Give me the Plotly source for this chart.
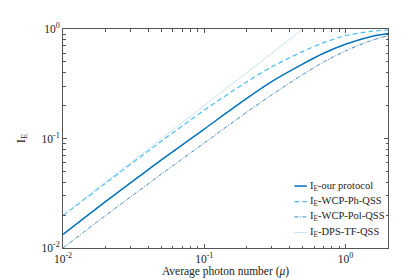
import plotly.graph_objects as go

mu = [0.01, 0.02, 0.05, 0.1, 0.2, 0.3, 0.5, 0.7, 1.0, 1.5, 2.0]
ie_our = [0.0133, 0.0265, 0.064, 0.122, 0.232, 0.33, 0.48, 0.60, 0.725, 0.85, 0.91]
ie_ph = [0.0198, 0.039, 0.095, 0.181, 0.33, 0.45, 0.625, 0.75, 0.87, 0.95, 0.98]
ie_pol = [0.0100, 0.0198, 0.0475, 0.091, 0.174, 0.25, 0.385, 0.50, 0.63, 0.78, 0.87]
mu_dps = [0.01, 0.02, 0.05, 0.1, 0.2, 0.3, 0.5]
ie_dps = [0.02, 0.04, 0.1, 0.2, 0.4, 0.6, 1.0]

names = ["I<sub>E</sub>-our protocol", "I<sub>E</sub>-WCP-Ph-QSS",
         "I<sub>E</sub>-WCP-Pol-QSS", "I<sub>E</sub>-DPS-TF-QSS"]

major = [0.01, 0.1, 1]
major_text = ["10<sup>-2</sup>", "10<sup>-1</sup>", "10<sup>0</sup>"]
minor_x = [k * 10 ** e for e in (-2, -1, 0) for k in range(2, 10) if k * 10 ** e <= 2]
minor_y = [k * 10 ** e for e in (-2, -1) for k in range(2, 10)]

styles = [
    dict(color="#0072BD", width=1.5),
    dict(color="#4DBEEE", width=1.2, dash="5px,3px"),
    dict(color="#2E7DBF", width=0.9, dash="4px,1.5px,1px,1.5px"),
    dict(color="#B5DDF2", width=0.8),
]
series = [(mu, ie_our), (mu, ie_ph), (mu, ie_pol), (mu_dps, ie_dps)]

fig = go.Figure()
for (xs, ys), st, nm in zip(series, styles, names):
    fig.add_trace(go.Scatter(x=xs, y=ys, mode="lines", name=nm,
                             line=dict(shape="spline", smoothing=0.8, **st),
                             showlegend=False))

# compact legend (bottom right), built from the same names/styles
leg_x0, leg_x1, leg_tx = 0.712, 0.750, 0.755
leg_rows = [0.283, 0.212, 0.142, 0.071]
for nm, st, yy in zip(names, styles, leg_rows):
    fig.add_shape(type="line", xref="paper", yref="paper",
                  x0=leg_x0, x1=leg_x1, y0=yy, y1=yy, line=st)
    fig.add_annotation(xref="paper", yref="paper", x=leg_tx, y=yy,
                       xanchor="left", yanchor="middle", showarrow=False,
                       text=nm, font=dict(family="Liberation Serif", size=10.5, color="#222222"))

axis_common = dict(type="log", showline=True, linecolor="#555555", linewidth=1,
                   mirror="allticks", ticks="inside", ticklen=4, tickcolor="#555555",
                   showgrid=False, zeroline=False,
                   tickfont=dict(family="Liberation Serif", size=11.5, color="#222222"),
                   minor=dict(ticks="inside", ticklen=2.5, tickcolor="#555555", showgrid=False))

fig.update_xaxes(**axis_common, range=[-2, 0.30103], tickmode="array",
                 tickvals=major, ticktext=major_text,
                 title=dict(text="Average photon number (<i>μ</i>)", standoff=3,
                            font=dict(family="Liberation Serif", size=11.5, color="#222222")))
fig.update_xaxes(minor=dict(tickmode="array", tickvals=minor_x))
fig.update_yaxes(**axis_common, range=[-2, 0], tickmode="array",
                 tickvals=major, ticktext=major_text,
                 title=dict(text="I<sub>E</sub>", standoff=13,
                            font=dict(family="Liberation Serif", size=12.5, color="#222222")))
fig.update_yaxes(minor=dict(tickmode="array", tickvals=minor_y))

fig.update_layout(
    width=420, height=280,
    margin=dict(l=54, r=40, t=21, b=34),
    paper_bgcolor="white", plot_bgcolor="white",
    font=dict(family="Liberation Serif", color="#222222"),
    showlegend=False,
)

fig.write_html("out.html")
